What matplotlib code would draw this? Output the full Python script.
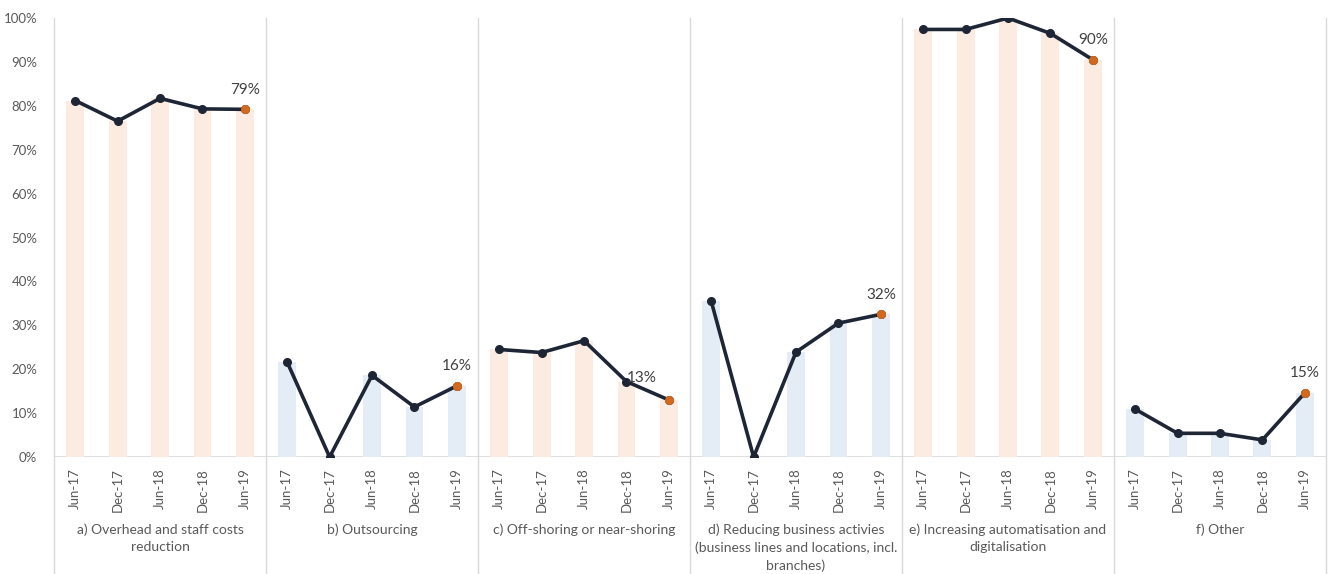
import matplotlib.pyplot as plt
import numpy as np

plt.rcParams['font.family'] = ['Lato', 'DejaVu Sans']

periods = ['Jun-17', 'Dec-17', 'Jun-18', 'Dec-18', 'Jun-19']
groups = [
    'a) Overhead and staff costs\nreduction',
    'b) Outsourcing',
    'c) Off-shoring or near-shoring',
    'd) Reducing business activies\n(business lines and locations, incl.\nbranches)',
    'e) Increasing automatisation and\ndigitalisation',
    'f) Other',
]
overhead = [81.2, 76.5, 81.7, 79.3, 79.2]
outsourcing = [21.6, 0.0, 18.6, 11.4, 16.2]
offshoring = [24.5, 23.8, 26.5, 17.2, 13.0]
reducing = [35.5, 0.0, 23.9, 30.5, 32.5]
automation = [97.4, 97.4, 100.0, 96.5, 90.5]
other = [10.9, 5.4, 5.4, 3.9, 14.6]
series = [overhead, outsourcing, offshoring, reducing, automation, other]
last_labels = ['79%', '16%', '13%', '32%', '90%', '15%']

bar_colors = ['#FBEBE0', '#E4ECF5']
line_color = '#1E2636'
last_color = '#D2691E'
grey = '#595959'
sep_color = '#D9D9D9'

fig = plt.figure(figsize=(13.34, 5.74), dpi=100)
ax = fig.add_axes([0.0405, 0.2038, 0.9535, 0.7648])

n = len(periods)
ticks = []
ticklabels = []
for gi, vals in enumerate(series):
    xs = np.arange(n) + gi * n
    ax.bar(xs, vals, width=0.42, color=bar_colors[gi % 2], zorder=1)
    ax.plot(xs, vals, color=line_color, lw=2.6, marker='o', ms=5.5, zorder=3)
    ax.plot(xs[-1], vals[-1], 'o', color=last_color, ms=5.5, zorder=4)
    dx = -0.65 if gi == 2 else 0
    ax.annotate(last_labels[gi], (xs[-1] + dx, vals[-1]), xytext=(0, 11 if gi == 2 else 9),
                textcoords='offset points', ha='center', va='bottom',
                fontsize=11, color='#404040')
    ticks.extend(xs)
    ticklabels.extend(periods)
    ax.text(gi * n + (n - 1) / 2, -0.152, groups[gi], transform=ax.get_xaxis_transform(),
            ha='center', va='top', fontsize=10, color=grey, linespacing=1.5)

for k in range(len(series) + 1):
    ax.axvline(k * n - 0.5, ymin=-0.266, ymax=1.0, color=sep_color, lw=1,
               clip_on=False, zorder=0)

ax.axhline(0, color=sep_color, lw=1.2, zorder=0)
ax.set_xlim(-0.5, len(series) * n - 0.5)
ax.set_ylim(0, 100)
ax.set_yticks(np.arange(0, 101, 10))
ax.set_yticklabels([f'{v}%' for v in range(0, 101, 10)])
ax.set_xticks(ticks)
ax.set_xticklabels(ticklabels, rotation=90)
ax.tick_params(axis='both', length=0, colors=grey, labelsize=9.5)
ax.tick_params(axis='x', pad=8)
ax.tick_params(axis='y', pad=12)
for s in ax.spines.values():
    s.set_visible(False)

fig.savefig('out.png', dpi=100)
